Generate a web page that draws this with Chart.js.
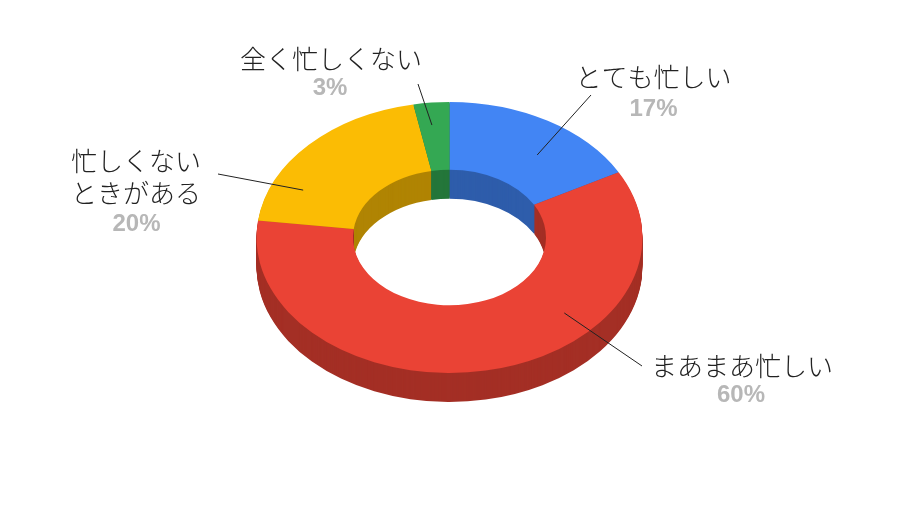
<!DOCTYPE html>
<html lang="ja">
<head>
<meta charset="utf-8">
<title>忙しさ</title>
<script src="https://cdn.jsdelivr.net/npm/chart.js@4/dist/chart.umd.min.js"></script>
<style>
  html, body { margin: 0; padding: 0; background: #fff; }
  #wrap { width: 900px; height: 506px; }
</style>
</head>
<body>
<div id="wrap"><canvas id="chart" width="900" height="506"></canvas></div>
<script>
const categories = ["とても忙しい", "まあまあ忙しい", "忙しくないときがある", "全く忙しくない"];
const labelLines = [["とても忙しい"], ["まあまあ忙しい"], ["忙しくない", "ときがある"], ["全く忙しくない"]];
const shares = [17, 60, 20, 3];
const percentLabels = ["17%", "60%", "20%", "3%"];

const TOP_COLORS = ["#4285F4", "#EA4335", "#FBBC04", "#34A853"];
const SIDE_COLORS = ["#2E5DAB", "#A42F25", "#B08403", "#24763A"];

// where the flat ring is projected to on screen (tilted ellipse + wall height)
const CX = 449.5, CY = 237.5, RX = 193, RY = 135.5, DEPTH = 29;

// callouts: text block, leader end beside the text, and where the leader
// touches the slice (fraction of the slice's angle, fraction of ring width)
const CALLOUTS = [
  { x: 653.5, lines: [77.5], pctX: 653.5, pctY: 109, lineEnd: [591, 95], anchor: [0.60, 0.52] },
  { x: 742, lines: [366], pctX: 741, pctY: 395, lineEnd: [642, 366], anchor: [0.333, 0.63] },
  { x: 136, lines: [161.5, 193.5], pctX: 136.5, pctY: 224.5, lineEnd: [218, 174], anchor: [0.244, 0.67] },
  { x: 331, lines: [59], pctX: 330, pctY: 88, lineEnd: [418, 84], anchor: [0.42, 0.67] },
];

/**
 * Chart.js only knows flat circles, so the ring is squashed into an ellipse
 * with a canvas transform, and the wall is faked by drawing the same arc
 * elements DEPTH times, shifted down, in the darker side colours.
 */
function ringTransform(ctx, arc, shift) {
    const R = arc.outerRadius;
    ctx.translate(CX, CY + shift);
    ctx.scale(RX / R, RY / R);
    ctx.translate(-arc.x, -arc.y);
}

function project(arc, angle, radius) {
    const R = arc.outerRadius;
    return [
        CX + Math.cos(angle) * radius * RX / R,
        CY + Math.sin(angle) * radius * RY / R,
    ];
}

const ringDepthPlugin = {
    id: "ringDepth",
    beforeDatasetsDraw(chart) {
        const ctx = chart.ctx;
        const arcs = chart.getDatasetMeta(0).data;
        for (let k = DEPTH; k >= 1; k--) {
            ctx.save();
            ringTransform(ctx, arcs[0], k);
            arcs.forEach((arc, i) => {
                const side = Object.create(arc);
                side.options = Object.assign({}, arc.options, {
                    backgroundColor: SIDE_COLORS[i],
                    borderWidth: 0,
                });
                side.draw(ctx);
            });
            ctx.restore();
        }
        // top face: let the library draw it inside the same projection
        ctx.save();
        ringTransform(ctx, arcs[0], 0);
    },
    afterDatasetsDraw(chart) {
        chart.ctx.restore();
    },
};

const calloutPlugin = {
    id: "callouts",
    afterDraw(chart) {
        const ctx = chart.ctx;
        const arcs = chart.getDatasetMeta(0).data;
        ctx.save();
        CALLOUTS.forEach((c, i) => {
            const arc = arcs[i];
            const a = arc.startAngle + (arc.endAngle - arc.startAngle) * c.anchor[0];
            const r = arc.innerRadius + (arc.outerRadius - arc.innerRadius) * c.anchor[1];
            const [ax, ay] = project(arc, a, r);
            ctx.strokeStyle = "#222222";
            ctx.lineWidth = 1;
            ctx.beginPath();
            ctx.moveTo(ax, ay);
            ctx.lineTo(c.lineEnd[0], c.lineEnd[1]);
            ctx.stroke();

            ctx.textAlign = "center";
            ctx.textBaseline = "middle";
            ctx.fillStyle = "#222222";
            ctx.font = '300 26px "Noto Sans CJK JP", "Noto Sans", sans-serif';
            labelLines[i].forEach((line, j) => ctx.fillText(line, c.x, c.lines[j]));
            ctx.fillStyle = "#b7b7b7";
            ctx.font = 'bold 24px "Liberation Sans", Arial, sans-serif';
            ctx.fillText(percentLabels[i], c.pctX, c.pctY);
        });
        ctx.restore();
    },
};

new Chart(document.getElementById("chart"), {
    type: "doughnut",
    data: {
        labels: categories,
        datasets: [{
            data: shares,
            backgroundColor: TOP_COLORS,
            borderWidth: 0,
            hoverOffset: 0,
            clip: false,
        }],
    },
    options: {
        responsive: false,
        animation: false,
        events: [],
        cutout: "50%",
        layout: { padding: 10 },
        plugins: {
            legend: { display: false },
            tooltip: { enabled: false },
        },
    },
    plugins: [ringDepthPlugin, calloutPlugin],
});
</script>
</body>
</html>
